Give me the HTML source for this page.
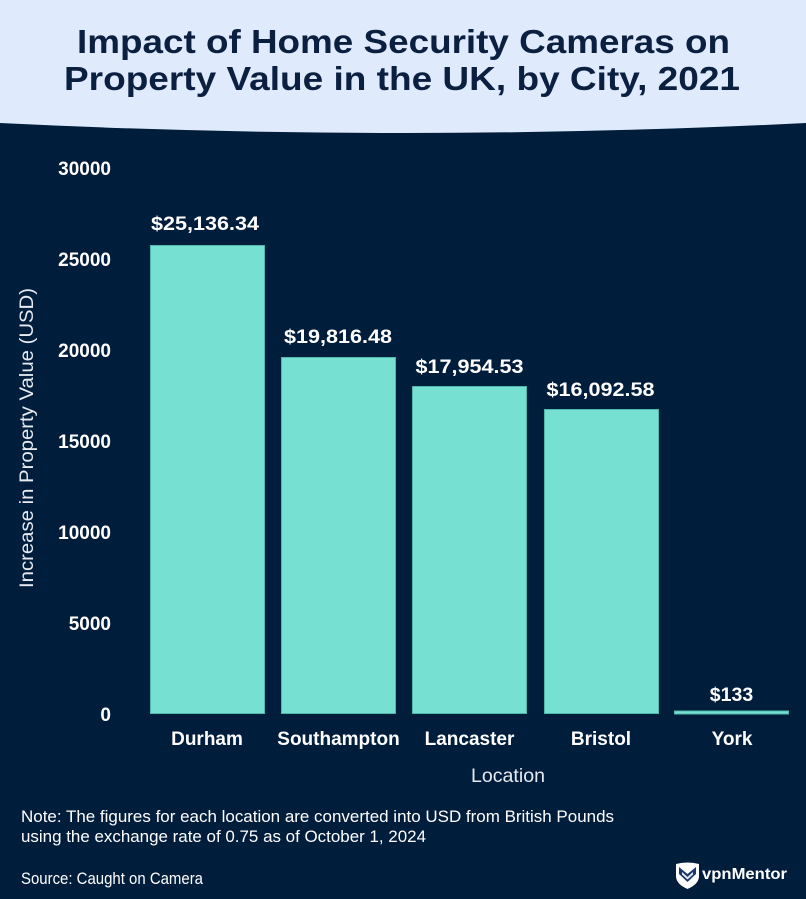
<!DOCTYPE html>
<html>
<head>
<meta charset="utf-8">
<style>
  html, body { margin: 0; padding: 0; background: #011d3c; }
  svg { display: block; }
  text { font-family: "Liberation Sans", Arial, sans-serif; }
</style>
</head>
<body>
<svg width="806" height="899" viewBox="0 0 806 899" xmlns="http://www.w3.org/2000/svg">
  <rect x="0" y="0" width="806" height="899" fill="#011d3c"/>
  <!-- header -->
  <path d="M0,0 H806 V123 Q403,143 0,123 Z" fill="#dfebfc"/>
  <text x="403.5" y="53" text-anchor="middle" font-size="33" font-weight="bold" fill="#0b1f40" textLength="653" lengthAdjust="spacingAndGlyphs">Impact of Home Security Cameras on</text>
  <text x="402" y="90" text-anchor="middle" font-size="33" font-weight="bold" fill="#0b1f40" textLength="676" lengthAdjust="spacingAndGlyphs">Property Value in the UK, by City, 2021</text>

  <!-- y tick labels -->
  <g font-size="19" font-weight="bold" fill="#ffffff" text-anchor="end">
    <text x="111" y="175">30000</text>
    <text x="111" y="266">25000</text>
    <text x="111" y="357">20000</text>
    <text x="111" y="448">15000</text>
    <text x="111" y="539">10000</text>
    <text x="111" y="630">5000</text>
    <text x="111" y="721">0</text>
  </g>

  <!-- y axis title -->
  <text transform="translate(33,438) rotate(-90)" text-anchor="middle" font-size="19.5" fill="#e6ebf2" textLength="300" lengthAdjust="spacingAndGlyphs">Increase in Property Value (USD)</text>

  <!-- bars -->
  <g fill="#76e0d3" stroke="#4fb7ab" stroke-width="1">
    <rect x="150.5" y="245.5" width="114" height="468"/>
    <rect x="281.5" y="357.5" width="114" height="356"/>
    <rect x="412.5" y="386.5" width="114" height="327"/>
    <rect x="544.5" y="409.5" width="114" height="304"/>
    <rect x="674.5" y="711" width="114" height="3"/>
  </g>

  <!-- value labels -->
  <g font-size="19.5" font-weight="bold" fill="#ffffff" text-anchor="middle">
    <text x="205" y="230" textLength="108" lengthAdjust="spacingAndGlyphs">$25,136.34</text>
    <text x="338" y="343" textLength="108" lengthAdjust="spacingAndGlyphs">$19,816.48</text>
    <text x="469.5" y="373" textLength="108" lengthAdjust="spacingAndGlyphs">$17,954.53</text>
    <text x="600.5" y="396" textLength="108" lengthAdjust="spacingAndGlyphs">$16,092.58</text>
    <text x="731.5" y="701">$133</text>
  </g>

  <!-- category labels -->
  <g font-size="19" font-weight="bold" fill="#ffffff" text-anchor="middle">
    <text x="207" y="745">Durham</text>
    <text x="338.5" y="745">Southampton</text>
    <text x="469.5" y="745">Lancaster</text>
    <text x="601" y="745">Bristol</text>
    <text x="732" y="745">York</text>
  </g>

  <!-- x axis title -->
  <text x="508" y="782" text-anchor="middle" font-size="19.5" fill="#e6ebf2" textLength="74" lengthAdjust="spacingAndGlyphs">Location</text>

  <!-- notes -->
  <g font-size="16.5" fill="#ffffff">
    <text x="21" y="822" textLength="593" lengthAdjust="spacingAndGlyphs">Note: The figures for each location are converted into USD from British Pounds</text>
    <text x="21" y="842" textLength="405" lengthAdjust="spacingAndGlyphs">using the exchange rate of 0.75 as of October 1, 2024</text>
    <text x="21" y="884" textLength="182" lengthAdjust="spacingAndGlyphs">Source: Caught on Camera</text>
  </g>

  <!-- logo -->
  <g transform="translate(676,862)">
    <path d="M0,2 Q11.5,-1 23,2 L23,14 Q23,22 11.5,27 Q0,22 0,14 Z" fill="#ffffff"/>
    <path d="M3,5 L11.5,12 L20,5 L20,12 L11.5,20 L3,12 Z" fill="#1b3a6b"/>
    <path d="M6,10 L11.5,15 L17,10 L17,12.5 L11.5,17.5 L6,12.5 Z" fill="#ffffff" opacity="0.9"/>
  </g>
  <text x="702" y="879" font-size="16" font-weight="bold" fill="#ffffff" textLength="85" lengthAdjust="spacingAndGlyphs">vpnMentor</text>
</svg>
</body>
</html>
